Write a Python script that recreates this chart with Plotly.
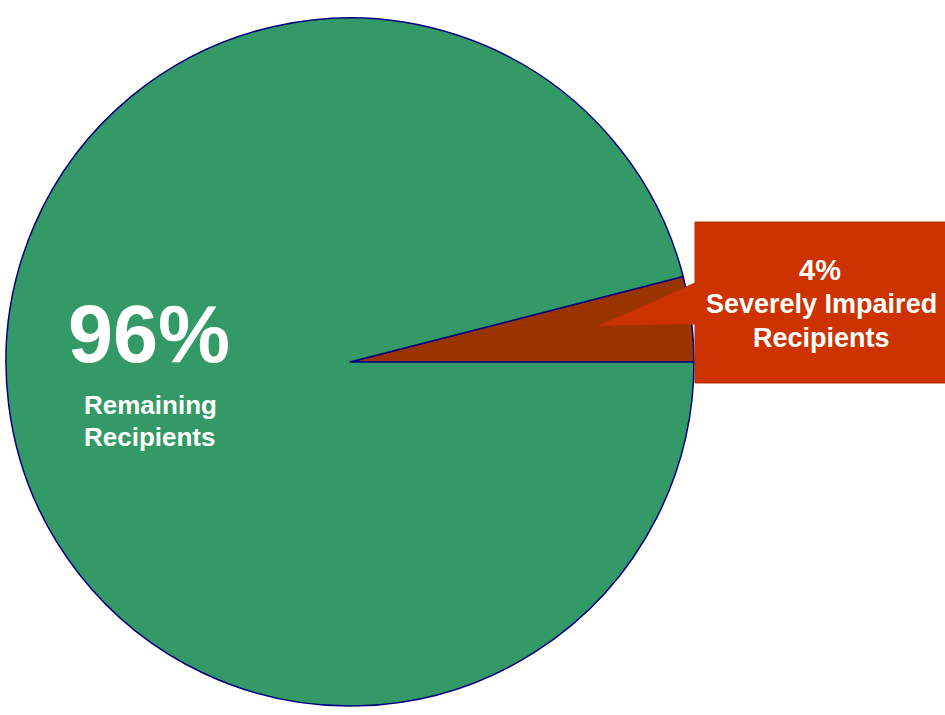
import plotly.graph_objects as go

# Data
labels = ["Severely Impaired Recipients", "Remaining Recipients"]
values = [4, 96]
colors = ["#993300", "#339966"]

W, H = 945, 715

def px(x, y):
    return x / W, 1 - y / H

share = 360 * values[0] / sum(values)

fig = go.Figure()
fig.add_trace(go.Pie(
    labels=labels,
    values=values,
    sort=False,
    direction="counterclockwise",
    rotation=90 - share,
    textinfo="none",
    hoverinfo="label+percent",
    marker=dict(colors=colors, line=dict(color="#000080", width=1.5)),
    domain=dict(x=[6 / W, 694 / W], y=[1 - 706 / H, 1 - 18 / H]),
    showlegend=False,
))

# Callout box with pointer
pts = [(695, 222), (950, 222), (950, 383), (695, 383), (695, 324), (598, 326), (695, 283)]
path = "M " + " L ".join(f"{px(x, y)[0]:.5f},{px(x, y)[1]:.5f}" for x, y in pts) + " Z"
fig.add_shape(type="path", path=path, xref="paper", yref="paper",
              fillcolor="#CC3300", line=dict(color="#B33000", width=1), layer="above")

font = "Liberation Sans, Arial, sans-serif"

def label(xp, yp, text, size):
    x, y = px(xp, yp)
    fig.add_annotation(x=x, y=y, xref="paper", yref="paper", showarrow=False,
                       text=f"<b>{text}</b>", font=dict(family=font, size=size, color="white"),
                       xanchor="center", yanchor="middle")

label(149, 334, f"{values[1]}%", 81)
label(150, 405, "Remaining", 26)
label(150, 437, "Recipients", 26)

label(820, 270, f"{values[0]}%", 29)
label(821, 304, "Severely Impaired", 27)
label(821, 338, "Recipients", 27)

fig.update_layout(width=W, height=H, margin=dict(l=0, r=0, t=0, b=0),
                  paper_bgcolor="white", plot_bgcolor="white")
fig.write_html("out.html", config={"displayModeBar": False},
               post_script="document.body.style.margin='0';document.body.style.overflow='hidden';")
